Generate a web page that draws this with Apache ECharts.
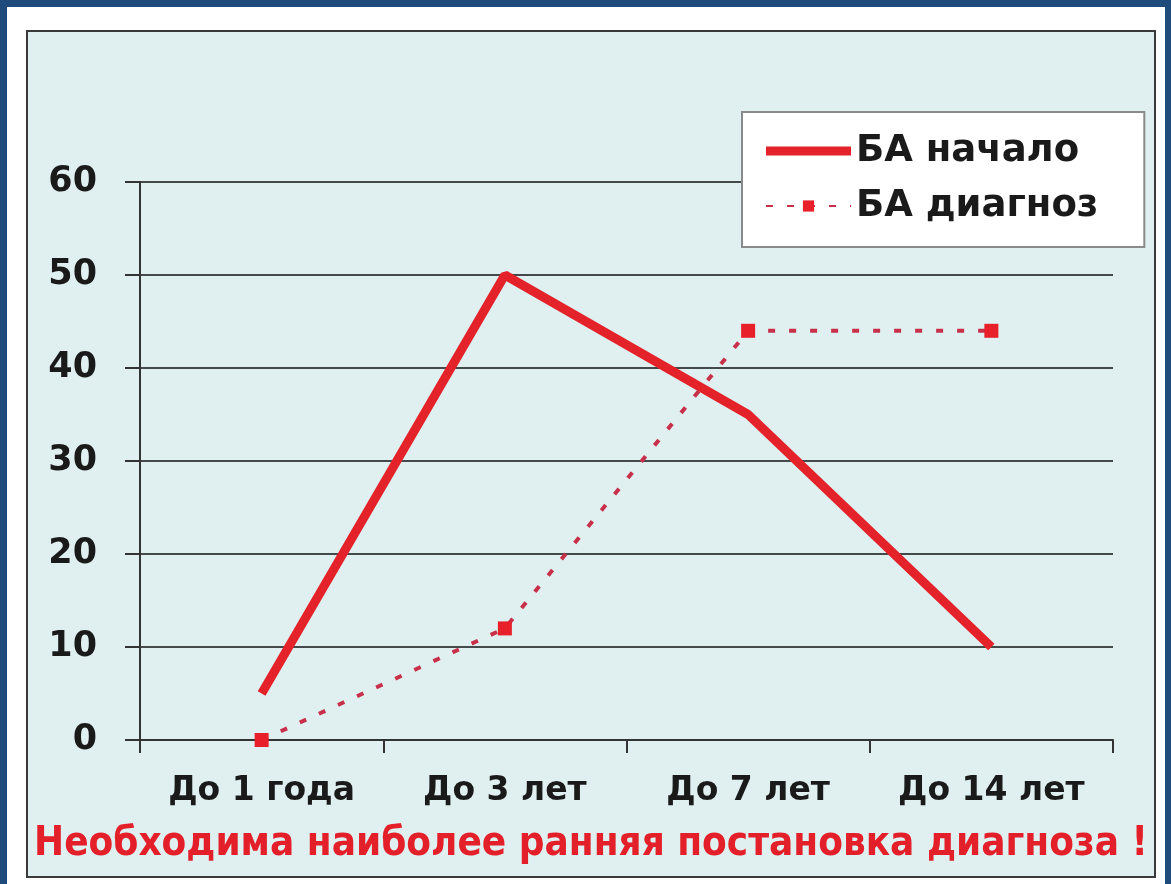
<!DOCTYPE html>
<html lang="ru">
<head>
    <meta charset="UTF-8">
    <title>БА начало / диагноз</title>
    <script src="https://cdn.jsdelivr.net/npm/echarts@6/dist/echarts.min.js"></script>
    <style>
        body { margin: 0; background: #1f4a7c; }
        #outer { position: absolute; left: 7px; top: 7px; width: 1158px; height: 877px; background: #ffffff; }
        #main { position: absolute; left: 19px; top: 23px; width: 1130px; height: 848px;
                border: 2px solid #3a3a3a; box-sizing: border-box; background: #e0f0f0; }
    </style>
</head>
<body>
<div id="outer"><div id="main"></div></div>
<script>
    var categories = ['До 1 года', 'До 3 лет', 'До 7 лет', 'До 14 лет'];
    var onsetValues = [5, 50, 35, 10];
    var diagnosisValues = [0, 12, 44, 44];
    var seriesNames = ['БА начало', 'БА диагноз'];
    var footnote = 'Необходима наиболее ранняя постановка диагноза !';

    var font = 'DejaVu Sans';
    var myChart = echarts.init(document.getElementById('main'));
    var myoption = {
        animation: false,
        title: {
            text: footnote,
            left: 'center',
            top: 788,
            textStyle: {
                fontFamily: 'DejaVu Sans Condensed',
                fontWeight: 'bold',
                fontSize: 40,
                color: '#e3202a'
            }
        },
        legend: {
            orient: 'vertical',
            left: 714,
            top: 80,
            backgroundColor: '#ffffff',
            borderColor: '#8a8a8a',
            borderWidth: 2,
            padding: [19, 46, 21, 23],
            itemWidth: 85,
            itemHeight: 14,
            itemGap: 15,
            textStyle: {
                fontFamily: font,
                fontWeight: 'bold',
                fontSize: 37,
                lineHeight: 40,
                color: '#1a1a1a'
            },
            data: [
                // thick solid bar, no marker
                { name: seriesNames[0], icon: 'path://M0,0 L85,0 L85,9 L0,9 Z' },
                { name: seriesNames[1] }
            ]
        },
        grid: {
            left: 112,
            right: 41,
            top: 150,
            bottom: 136
        },
        xAxis: {
            type: 'category',
            data: categories,
            boundaryGap: true,
            axisLine: { lineStyle: { color: '#333', width: 2 } },
            axisTick: { show: true, interval: 0, length: 13, lineStyle: { color: '#333', width: 2 } },
            axisLabel: {
                interval: 0,
                margin: 35,
                fontFamily: font,
                fontWeight: 'bold',
                fontSize: 33,
                color: '#1a1a1a'
            }
        },
        yAxis: {
            type: 'value',
            min: 0,
            max: 60,
            interval: 10,
            axisLine: { show: true, lineStyle: { color: '#333', width: 2 } },
            axisTick: { show: true, length: 15, lineStyle: { color: '#333', width: 2 } },
            splitLine: { lineStyle: { color: '#444949', width: 2 } },
            axisLabel: {
                margin: 43,
                fontFamily: font,
                fontWeight: 'bold',
                fontSize: 35,
                color: '#1a1a1a'
            }
        },
        series: [
            {
                name: seriesNames[0],
                type: 'line',
                data: onsetValues,
                symbol: 'none',
                itemStyle: { color: '#e3222a' },
                lineStyle: { color: '#e3222a', width: 9 }
            },
            {
                name: seriesNames[1],
                type: 'line',
                data: diagnosisValues,
                symbol: 'rect',
                symbolSize: 14,
                itemStyle: { color: '#e8202a' },
                lineStyle: { color: '#c8304a', width: 4, type: [7, 14] }
            }
        ]
    };
    myChart.setOption(myoption);
</script>
</body>
</html>
